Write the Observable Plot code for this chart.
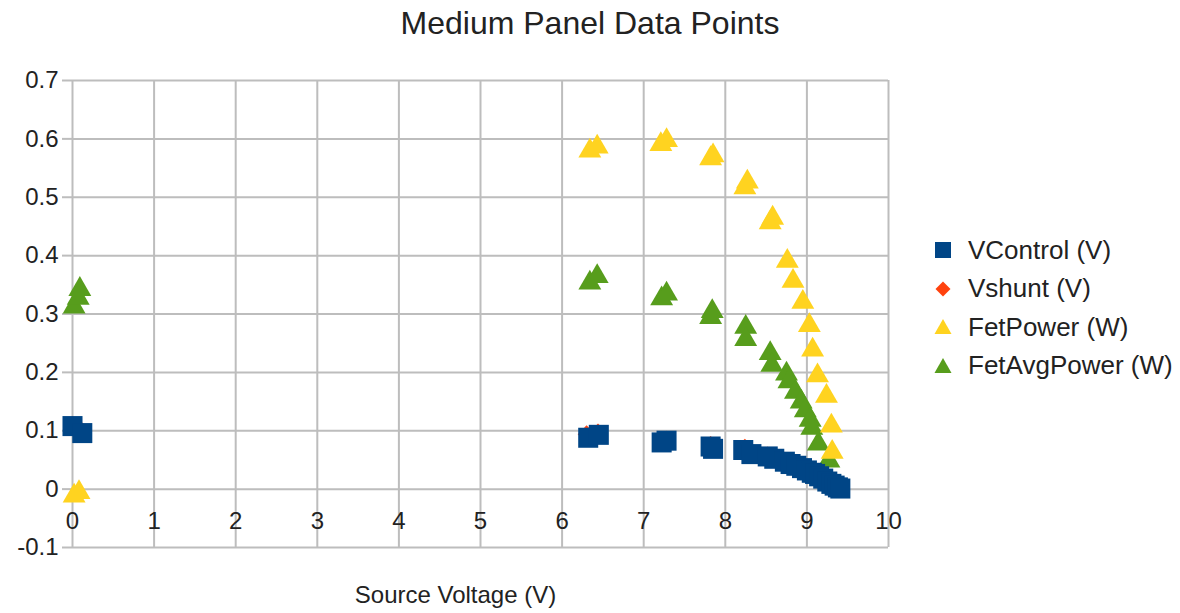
<!DOCTYPE html>
<html>
<head>
<meta charset="utf-8">
<script src="https://cdn.jsdelivr.net/npm/d3@7"></script>
<script src="https://cdn.jsdelivr.net/npm/@observablehq/plot@0.6"></script>
<style>
  body { margin: 0; background: #fff; font-family: "Liberation Sans", Arial, sans-serif; }
  #chart { position: relative; width: 1180px; height: 613px; overflow: hidden; }
  #title { height: 46px; line-height: 46px; text-align: center; font-size: 32px; color: #222; }
  #legend { position: absolute; left: 932px; top: 231px; }
  .item { display: flex; align-items: center; height: 38.5px; font-size: 26px; color: #222; white-space: nowrap; }
  .item svg { width: 22px; height: 22px; margin-right: 14px; flex: none; }
</style>
</head>
<body>
<div id="chart">
  <div id="title"></div>
  <div id="plot"></div>
  <div id="legend"></div>
</div>
<script>
const chartTitle = "Medium Panel Data Points";
const xLabel = "Source Voltage (V)";

const xTicks = [0, 1, 2, 3, 4, 5, 6, 7, 8, 9, 10];
const yTicks = [-0.1, 0, 0.1, 0.2, 0.3, 0.4, 0.5, 0.6, 0.7];
const yTickLabels = ["-0.1", "0", "0.1", "0.2", "0.3", "0.4", "0.5", "0.6", "0.7"];

const seriesNames = ["VControl (V)", "Vshunt (V)", "FetPower (W)", "FetAvgPower (W)"];
const seriesColors = ["#004586", "#ff420e", "#ffd320", "#579d1c"];

// Source voltage / control voltage
const vcontrolX = [0.00, 0.12, 6.32, 6.45, 7.22, 7.28, 7.82, 7.85, 8.22, 8.32, 8.52, 8.60, 8.73, 8.80, 8.87, 8.94, 9.00, 9.06, 9.10, 9.15, 9.20, 9.25, 9.30, 9.34, 9.38, 9.41];
const vcontrolY = [0.108, 0.096, 0.088, 0.093, 0.080, 0.083, 0.073, 0.069, 0.067, 0.060, 0.056, 0.052, 0.047, 0.043, 0.040, 0.036, 0.032, 0.028, 0.026, 0.022, 0.018, 0.013, 0.009, 0.006, 0.003, 0.001];

// Shunt voltage
const vshuntX = [0.00, 0.12, 6.30, 6.44, 7.22, 7.28, 7.82, 7.85, 8.24, 8.32, 8.52, 8.60, 8.73, 8.80, 8.87, 8.94, 9.00, 9.06, 9.10, 9.15, 9.20, 9.25, 9.30, 9.34, 9.38, 9.41];
const vshuntY = [0.110, 0.099, 0.094, 0.097, 0.082, 0.085, 0.076, 0.071, 0.071, 0.062, 0.058, 0.054, 0.049, 0.045, 0.042, 0.038, 0.034, 0.030, 0.028, 0.024, 0.020, 0.015, 0.011, 0.008, 0.005, 0.003];

// Instantaneous FET power
const fetPowerX = [0.02, 0.08, 6.34, 6.43, 7.21, 7.28, 7.82, 7.85, 8.24, 8.27, 8.55, 8.58, 8.76, 8.83, 8.95, 9.03, 9.07, 9.13, 9.24, 9.30, 9.31];
const fetPowerY = [-0.006, 0.000, 0.585, 0.592, 0.596, 0.603, 0.572, 0.577, 0.522, 0.532, 0.462, 0.470, 0.396, 0.362, 0.326, 0.286, 0.244, 0.200, 0.165, 0.114, 0.069];

// Averaged FET power
const fetAvgPowerX = [0.02, 0.07, 0.09, 6.34, 6.43, 7.22, 7.28, 7.82, 7.84, 8.25, 8.25, 8.55, 8.57, 8.75, 8.78, 8.86, 8.93, 8.98, 9.04, 9.06, 9.14, 9.27];
const fetAvgPowerY = [0.318, 0.333, 0.348, 0.359, 0.370, 0.332, 0.340, 0.300, 0.310, 0.283, 0.262, 0.238, 0.218, 0.203, 0.190, 0.172, 0.155, 0.140, 0.124, 0.110, 0.083, 0.054];

const zip = (xs, ys) => xs.map((x, i) => ({x, y: ys[i]}));
const vcontrol = zip(vcontrolX, vcontrolY);
const vshunt = zip(vshuntX, vshuntY);
const fetPower = zip(fetPowerX, fetPowerY);
const fetAvgPower = zip(fetAvgPowerX, fetAvgPowerY);

// Upright triangle centred on its bounding box
const triangle = {
  draw(context, size) {
    const s = Math.sqrt(4 * size / Math.sqrt(3));
    const h = s * Math.sqrt(3) / 2;
    context.moveTo(0, -h / 2);
    context.lineTo(s / 2, h / 2);
    context.lineTo(-s / 2, h / 2);
    context.closePath();
  }
};

const font = "'Liberation Sans', Arial, sans-serif";
const grid = {stroke: "#bdbdbd", strokeOpacity: 1, strokeWidth: 2};

document.getElementById("title").textContent = chartTitle;

const plot = Plot.plot({
  width: 1180,
  height: 567,
  marginLeft: 72,
  marginRight: 292,
  marginTop: 34,
  marginBottom: 66,
  x: {domain: [0, 10], axis: null},
  y: {domain: [-0.1, 0.7]},
  style: {fontFamily: font, fontSize: "24px", color: "#222", background: "transparent", overflow: "visible"},
  marks: [
    Plot.gridX(xTicks, grid),
    Plot.gridY(yTicks, grid),
    Plot.axisY({
      ticks: yTicks,
      tickSize: 10,
      tickPadding: 4,
      stroke: "#bdbdbd",
      strokeWidth: 2,
      fill: "#222",
      fontSize: 24,
      label: null,
      tickFormat: d => yTickLabels[yTicks.findIndex(t => Math.abs(t - d) < 1e-9)]
    }),
    // tick labels of the x axis sit under the zero line
    Plot.text(xTicks.map(t => ({t})), {x: "t", y: () => 0, text: d => String(d.t), dy: 32, fontSize: 24, fill: "#222"}),
    Plot.text([xLabel], {frameAnchor: "bottom", dx: -25, dy: 55, fontSize: 24, fill: "#222"}),
    Plot.dot(fetAvgPower, {x: "x", y: "y", symbol: triangle, r: 8.5, fill: seriesColors[3], stroke: "none"}),
    Plot.dot(vshunt, {x: "x", y: "y", symbol: "diamond2", r: 8, fill: seriesColors[1], stroke: "none"}),
    Plot.dot(fetPower, {x: "x", y: "y", symbol: triangle, r: 8.5, fill: seriesColors[2], stroke: "none"}),
    Plot.dot(vcontrol, {x: "x", y: "y", symbol: "square", r: 11.3, fill: seriesColors[0], stroke: "none"})
  ]
});
document.getElementById("plot").appendChild(plot);

// Legend on the right
const legendShapes = [
  '<rect x="3" y="3" width="16" height="16" fill="COLOR"/>',
  '<path d="M11 3.5 L18.5 11 L11 18.5 L3.5 11 Z" fill="COLOR"/>',
  '<path d="M11 3 L19.5 18 L2.5 18 Z" fill="COLOR"/>',
  '<path d="M11 3 L19.5 18 L2.5 18 Z" fill="COLOR"/>'
];
const legend = document.getElementById("legend");
seriesNames.forEach((name, i) => {
  const item = document.createElement("div");
  item.className = "item";
  item.innerHTML = `<svg viewBox="0 0 22 22">${legendShapes[i].replace("COLOR", seriesColors[i])}</svg><span>${name}</span>`;
  legend.appendChild(item);
});
</script>
</body>
</html>
